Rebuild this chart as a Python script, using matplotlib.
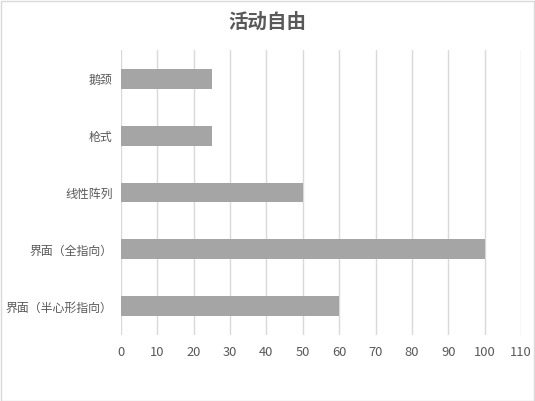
import matplotlib
matplotlib.use("Agg")
import matplotlib.pyplot as plt
from matplotlib.patches import Rectangle

plt.rcParams['font.family'] = ['Noto Sans CJK SC', 'DejaVu Sans']

categories = ["界面（半心形指向）", "界面（全指向）", "线性阵列", "枪式", "鹅颈"]
values = [60, 100, 50, 25, 25]
xticks = list(range(0, 111, 10))
title = "活动自由"

fig = plt.figure(figsize=(5.35, 4.01), dpi=100)
ax = fig.add_axes([0.226, 0.165, 0.748, 0.71])
ax.barh(range(len(categories)), values, height=0.35, color="#a5a5a5", zorder=3)
ax.set_xlim(0, 110)
ax.set_ylim(-0.5, len(categories) - 0.5)
ax.set_xticks(xticks)
ax.set_yticks(range(len(categories)))
ax.set_yticklabels(categories)
ax.grid(axis="x", color="#d9d9d9", linewidth=1, zorder=0)
ax.grid(axis="y", visible=False)
for s in ax.spines.values():
    s.set_visible(False)
ax.tick_params(axis="both", length=0, colors="#595959")
ax.tick_params(axis="x", pad=8, labelsize=9.3)
ax.tick_params(axis="y", pad=6, labelsize=8.6)
fig.text(0.5, 0.945, title, ha="center", va="center", fontsize=14, fontweight="bold", color="#595959")
fig.patches.append(Rectangle((0.001, 0.001), 0.997, 0.997, transform=fig.transFigure,
                             fill=False, edgecolor="#d9d9d9", linewidth=1))
fig.savefig("out.png", dpi=100)
